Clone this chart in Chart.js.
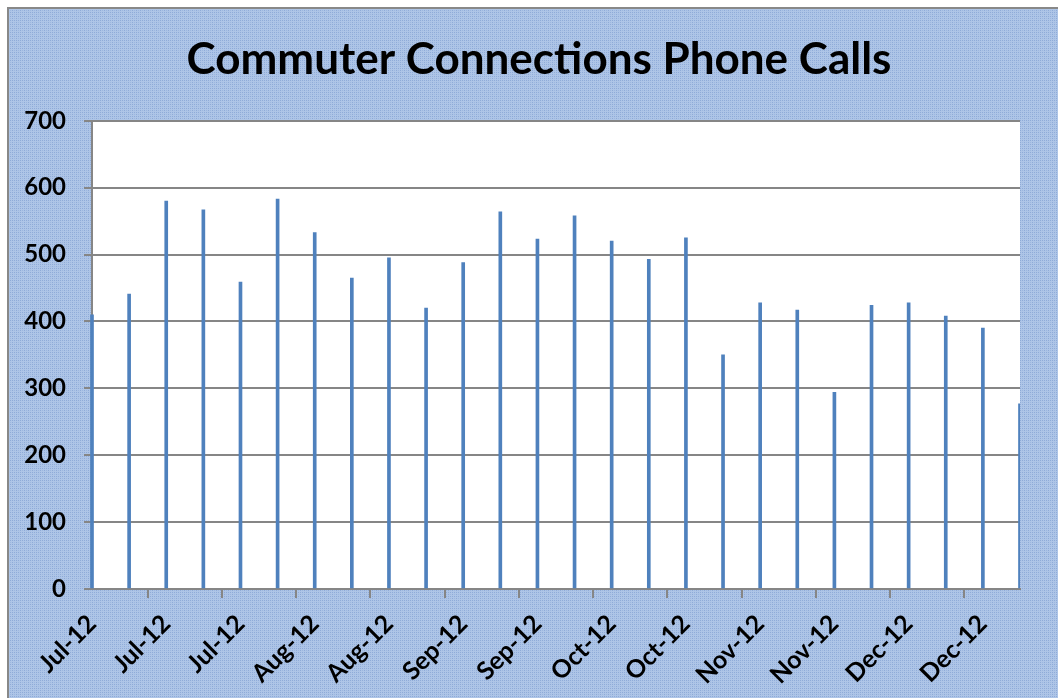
<!DOCTYPE html>
<html>
<head>
<meta charset="utf-8">
<script src="https://cdn.jsdelivr.net/npm/chart.js@4.4.1/dist/chart.umd.min.js"></script>
<style>
  html, body { margin: 0; padding: 0; background: #fff; }
  #wrap { position: absolute; left: 0; top: 0; width: 1058px; height: 698px; }
</style>
</head>
<body>
<div id="wrap"><canvas id="puhelut" width="1058" height="698"></canvas></div>
<script>
// weekly call counts, Jul 2 2012 .. Dec 24 2012
const weekLabels = [
  'Jul-12','Jul-12','Jul-12','Jul-12','Jul-12','Aug-12','Aug-12','Aug-12','Aug-12',
  'Sep-12','Sep-12','Sep-12','Sep-12','Oct-12','Oct-12','Oct-12','Oct-12','Oct-12',
  'Nov-12','Nov-12','Nov-12','Nov-12','Dec-12','Dec-12','Dec-12','Dec-12'
];
const calls = [
  410, 441, 580, 567, 459, 583, 533, 465, 495, 420, 488, 564, 523,
  558, 520, 493, 525, 350, 428, 417, 294, 424, 428, 408, 390, 277
];
const yTicks = [0, 100, 200, 300, 400, 500, 600, 700];

const FONT = 'Lato';
const harmaa = '#868686';

// dotted blue fill like the original chart area
function teeKuvio() {
  const c = document.createElement('canvas');
  c.width = 4; c.height = 4;
  const g = c.getContext('2d');
  g.fillStyle = '#aec5e7';
  g.fillRect(0, 0, 4, 4);
  g.fillStyle = '#8fabd8';
  g.fillRect(0, 0, 1, 1);
  g.fillRect(2, 0, 1, 1);
  g.fillRect(0, 2, 1, 1);
  g.fillStyle = '#9db7df';
  g.fillRect(2, 2, 1, 1);
  return c;
}

const taustaPlugin = {
  id: 'tausta',
  beforeDraw(chart) {
    const { ctx, width, height, chartArea: a } = chart;
    ctx.save();
    ctx.fillStyle = ctx.createPattern(teeKuvio(), 'repeat');
    ctx.fillRect(8, 8, width - 8, height - 8);
    ctx.fillStyle = '#ffffff';
    ctx.fillRect(a.left, a.top, a.right - a.left, a.bottom - a.top);
    ctx.strokeStyle = '#888888';
    ctx.lineWidth = 2;
    ctx.beginPath();
    ctx.moveTo(8, height + 2);
    ctx.lineTo(8, 8);
    ctx.lineTo(width + 2, 8);
    ctx.stroke();
    ctx.restore();
  }
};

new Chart(document.getElementById('puhelut'), {
  type: 'bar',
  data: {
    labels: weekLabels,
    datasets: [{
      data: calls,
      backgroundColor: '#4f81bd',
      barThickness: 3,
      clip: { left: 2, top: 0, right: 0, bottom: 0 }
    }]
  },
  options: {
    responsive: false,
    animation: false,
    layout: { padding: { left: 20, right: 0, top: 0, bottom: 0 } },
    plugins: {
      legend: { display: false },
      tooltip: { enabled: false },
      title: {
        display: true,
        text: 'Commuter Connections Phone Calls',
        color: '#000',
        font: { family: FONT, size: 44, weight: 'bold' },
        padding: { top: 33, bottom: 35 }
      }
    },
    scales: {
      x: {
        offset: false,
        afterFit: (s) => { s.height = 109; s.paddingRight = 38; },
        grid: {
          drawOnChartArea: false,
          tickLength: 9,
          lineWidth: 2,
          color: (c) => (c.index % 2 === 0 ? harmaa : 'rgba(0,0,0,0)')
        },
        border: { color: harmaa, width: 2 },
        ticks: {
          autoSkip: false,
          minRotation: 45,
          maxRotation: 45,
          padding: 11,
          color: '#000',
          font: { family: FONT, size: 25, weight: 'bold' },
          callback: (v, i) => (i % 2 === 0 ? weekLabels[i] : '')
        }
      },
      y: {
        min: yTicks[0],
        max: yTicks[yTicks.length - 1],
        afterFit: (s) => { s.width = 72; },
        afterBuildTicks: (s) => { s.ticks = yTicks.map(v => ({ value: v })); },
        grid: { color: harmaa, lineWidth: 2, tickLength: 8 },
        border: { color: harmaa, width: 2 },
        ticks: {
          padding: 18,
          color: '#000',
          font: { family: FONT, size: 24, weight: 'bold' }
        }
      }
    }
  },
  plugins: [taustaPlugin]
});
</script>
</body>
</html>
